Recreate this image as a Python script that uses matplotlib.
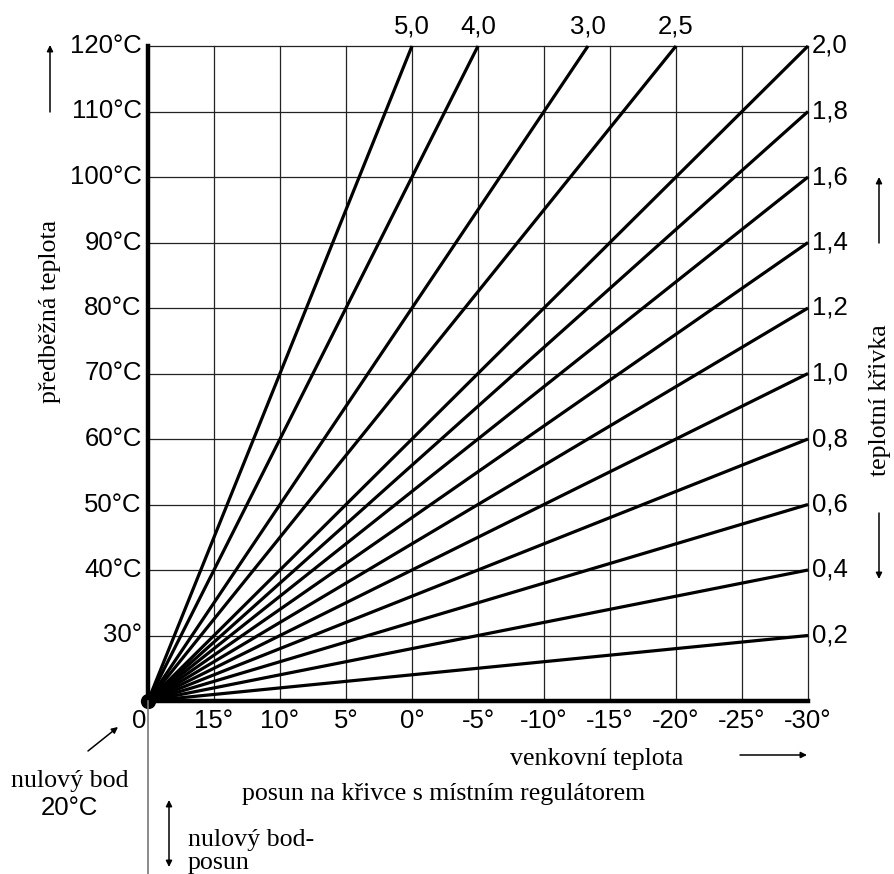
import matplotlib
matplotlib.use("Agg")
import matplotlib.pyplot as plt
import numpy as np

# ---- data ----
slopes = [0.2, 0.4, 0.6, 0.8, 1.0, 1.2, 1.4, 1.6, 1.8, 2.0, 2.5, 3.0, 4.0, 5.0]
right_labels = ["0,2", "0,4", "0,6", "0,8", "1,0", "1,2", "1,4", "1,6", "1,8", "2,0"]
top_slopes = [5.0, 4.0, 3.0, 2.5]
top_labels = ["5,0", "4,0", "3,0", "2,5"]
x_ticks = [15, 10, 5, 0, -5, -10, -15, -20, -25, -30]
x_labels = ["15°", "10°", "5°", "0°", "-5°", "-10°", "-15°", "-20°", "-25°", "-30°"]
y_ticks = [30, 40, 50, 60, 70, 80, 90, 100, 110, 120]
y_labels = ["30°", "40°C", "50°C", "60°C", "70°C", "80°C", "90°C", "100°C", "110°C", "120°C"]
zero_point = 20    # outdoor temp of zero point / flow temp at zero point
x_min, y_max = -30, 120

W, H = 894, 874
fig = plt.figure(figsize=(W / 100, H / 100), dpi=100)

SANS = "Liberation Sans"
SERIF = "Liberation Serif"
FS = 18.5
FSS = 18.6

L, R, T, B = 148, 808, 46, 701
ax = fig.add_axes([L / W, 1 - B / H, (R - L) / W, (B - T) / H])
ax.set_xlim(zero_point, x_min)
ax.set_ylim(zero_point, y_max)

# grid
for xt in x_ticks:
    ax.axvline(xt, color="#222222", lw=0.9, zorder=1, clip_on=False)
for yt in y_ticks:
    ax.axhline(yt, color="#222222", lw=0.9, zorder=1, clip_on=False)

# curves
for s in slopes:
    x_end = max(x_min, zero_point - (y_max - zero_point) / s)
    xs = np.array([zero_point, x_end])
    ys = zero_point + s * (zero_point - xs)
    ax.plot(xs, ys, color="black", lw=2.3, solid_capstyle="butt", zorder=3, clip_on=False)

ax.plot([zero_point], [zero_point], "o", color="black", ms=10, zorder=6, clip_on=False)

for sp in ["top", "right"]:
    ax.spines[sp].set_visible(False)
ax.spines["left"].set_linewidth(3.2)
ax.spines["bottom"].set_linewidth(3.2)
ax.spines["left"].set_zorder(5)
ax.spines["bottom"].set_zorder(5)
ax.set_xticks([])
ax.set_yticks([])

# tick labels
for xt, lab in zip(x_ticks, x_labels):
    ax.annotate(lab, (xt, zero_point), xytext=(0, -14.5), textcoords="offset points",
                ha="center", va="center", fontsize=FS, family=SANS)
ax.annotate("0", (zero_point, zero_point), xytext=(-6, -14.5), textcoords="offset points",
            ha="center", va="center", fontsize=FS, family=SANS)
for yt, lab in zip(y_ticks, y_labels):
    ax.annotate(lab, (zero_point, yt), xytext=(-4.5, 0), textcoords="offset points",
                ha="right", va="center", fontsize=FS, family=SANS)
for yt, lab in zip(y_ticks, right_labels):
    ax.annotate(lab, (x_min, yt), xytext=(3, 0), textcoords="offset points",
                ha="left", va="center", fontsize=FS, family=SANS)
for s, lab in zip(top_slopes, top_labels):
    x_end = zero_point - (y_max - zero_point) / s
    ax.annotate(lab, (x_end, y_max), xytext=(0, 14), textcoords="offset points",
                ha="center", va="center", fontsize=FS, family=SANS)

# overlay in pixel coordinates for annotations
ov = fig.add_axes([0, 0, 1, 1], facecolor="none")
ov.set_xlim(0, W)
ov.set_ylim(H, 0)
ov.axis("off")

def arrow(x0, y0, x1, y1, style="-|>"):
    ov.annotate("", xy=(x1, y1), xytext=(x0, y0),
                arrowprops=dict(arrowstyle=style, color="black", lw=1.1,
                                mutation_scale=9, shrinkA=0, shrinkB=0))

ov.plot([L, L], [B, H], color="#777777", lw=1.2)

ov.text(50, 311, "předběžná teplota", rotation=90, ha="center", va="center",
        fontsize=FSS, family=SERIF)
arrow(50, 112, 50, 45)

ov.text(880, 400, "teplotní křivka", rotation=90, ha="center", va="center",
        fontsize=FSS, family=SERIF)
arrow(879, 243, 879, 177)
arrow(879, 513, 879, 579)

ov.text(597, 765, "venkovní teplota", ha="center", va="baseline", fontsize=FSS, family=SERIF)
arrow(740, 755, 807, 755)

arrow(88, 751, 118, 727)
ov.text(70, 787, "nulový bod", ha="center", va="baseline", fontsize=FSS, family=SERIF)
ov.text(69, 808, "20°C", ha="center", va="center", fontsize=FS, family=SANS)

ov.text(444, 800, "posun na křivce s místním regulátorem", ha="center", va="baseline",
        fontsize=FSS, family=SERIF)
arrow(169, 800, 169, 867, style="<|-|>")
ov.text(188, 846, "nulový bod-", ha="left", va="baseline", fontsize=FSS, family=SERIF)
ov.text(188, 869, "posun", ha="left", va="baseline", fontsize=FSS, family=SERIF)

fig.savefig("out.png", dpi=100)
